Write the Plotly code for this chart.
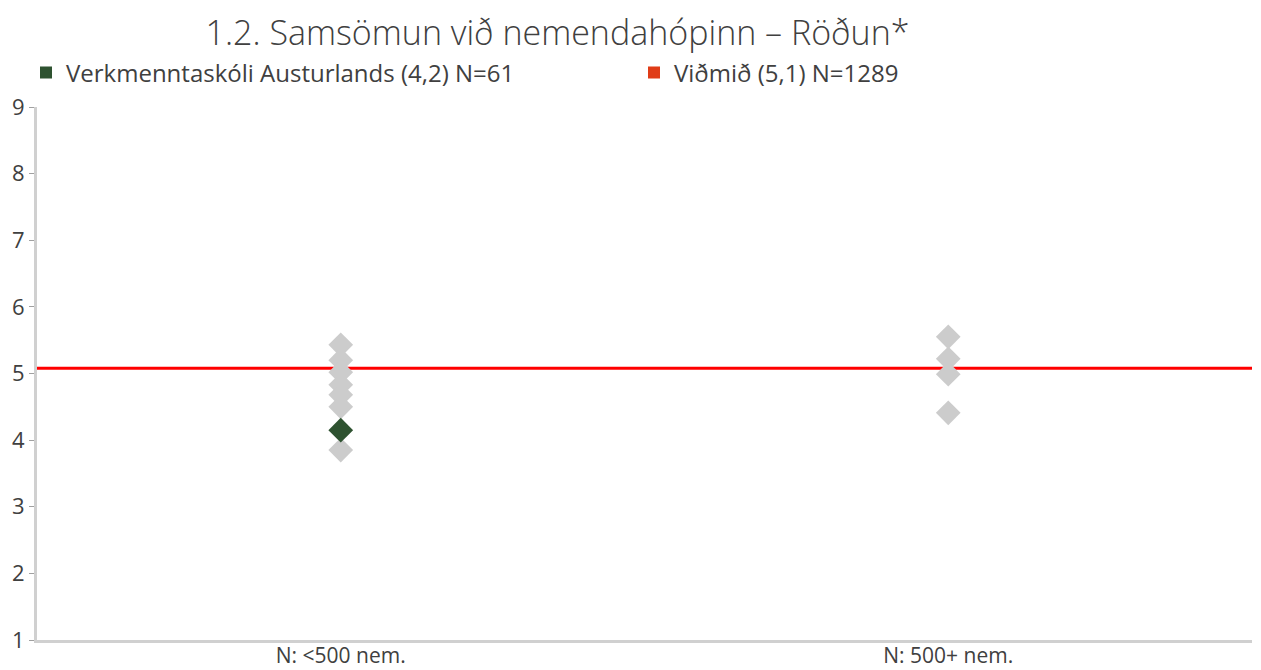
import plotly.graph_objects as go

categories = ["N: <500 nem.", "N: 500+ nem."]
small_schools = [5.43, 5.20, 5.02, 4.83, 4.68, 4.50, 3.85]
large_schools = [5.55, 5.22, 4.99, 4.41]
school_name = "Verkmenntaskóli Austurlands (4,2) N=61"
school_value = 4.15
benchmark_name = "Viðmið (5,1) N=1289"
benchmark_value = 5.08
y_ticks = [1, 2, 3, 4, 5, 6, 7, 8, 9]

FONT = "Open Sans"
TXT = "#404040"
GRAY = "#cccccc"
GREEN = "#2e5230"
# page body has an 8px default margin, so the figure is 8px smaller
W, H = 1253, 662

fig = go.Figure()

fig.add_trace(go.Scatter(
    x=[categories[0]] * len(small_schools), y=small_schools,
    mode="markers", marker=dict(symbol="diamond", size=19, color=GRAY),
    showlegend=False, hoverinfo="y"))
fig.add_trace(go.Scatter(
    x=[categories[1]] * len(large_schools), y=large_schools,
    mode="markers", marker=dict(symbol="diamond", size=19, color=GRAY),
    showlegend=False, hoverinfo="y"))
fig.add_trace(go.Scatter(
    x=[categories[0]], y=[school_value], name=school_name,
    mode="markers", marker=dict(symbol="diamond", size=19, color=GREEN),
    showlegend=False))
# legend entries (square swatches)
fig.add_trace(go.Scatter(
    x=[None], y=[None], name=school_name,
    mode="markers", marker=dict(symbol="square", size=15, color=GREEN)))
fig.add_trace(go.Scatter(
    x=[None], y=[None], name=benchmark_name,
    mode="markers", marker=dict(symbol="square", size=15, color="#e03c17")))

fig.add_shape(type="line", xref="paper", yref="y", x0=0, x1=1,
              y0=benchmark_value, y1=benchmark_value,
              line=dict(color="#ff0000", width=3), layer="below")

fig.update_layout(
    width=W, height=H,
    margin=dict(l=29, r=9, t=99, b=30, autoexpand=False),
    paper_bgcolor="white", plot_bgcolor="white",
    font=dict(family=FONT, size=22, color=TXT),
    title=dict(text="1.2. Samsömun við nemendahópinn – Röðun*",
               x=549.5 / W, xanchor="center", y=1 - 25.5 / H, yref="container", yanchor="middle",
               font=dict(family=FONT, size=34, color=TXT, weight=300)),
    legend=dict(orientation="h", x=18 / W, xanchor="left", y=1 - 65 / H, yanchor="middle",
                xref="container", yref="container",
                entrywidth=563, entrywidthmode="pixels",
                itemsizing="constant", font=dict(size=24, color=TXT),
                traceorder="normal", itemwidth=30),
    showlegend=True,
)
fig.update_xaxes(type="category", categoryorder="array", categoryarray=categories,
                 range=[-0.5, 1.5], showgrid=False, showline=True,
                 linecolor="#d0d0d0", linewidth=3, ticks="", automargin=False,
                 ticklabelstandoff=-5,
                 tickfont=dict(size=21, color=TXT), zeroline=False)
fig.update_yaxes(range=[1, 9], tickvals=y_ticks, showgrid=False, showline=True,
                 linecolor="#d0d0d0", linewidth=3, ticks="outside", ticklen=5,
                 tickcolor="#a0a0a0", tickwidth=1, automargin=False,
                 tickfont=dict(size=22, color=TXT), zeroline=False)

fig.write_html("out.html")
